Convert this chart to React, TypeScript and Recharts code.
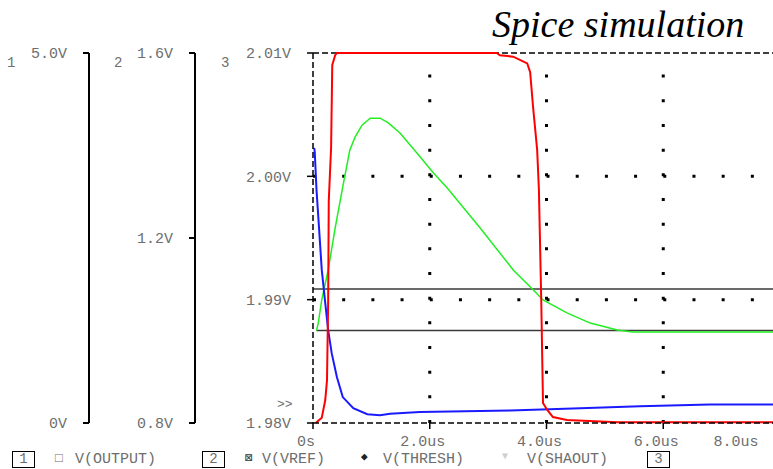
import { LineChart, Line, XAxis, YAxis } from "recharts"

// axis ticks
const timeTicks = [0, 2, 4, 6, 8]
const outputTicks = [0, 5]
const midTicks = [0.8, 1.2, 1.6]
const fineTicks = [1.98, 1.99, 2.0, 2.01]
const gridTimes = [2, 4, 6]
const gridFine = [1.99, 2.0]

// V(OUTPUT) on axis 1 (us, V)
const outputTime = [0.05, 0.09, 0.15, 0.21, 0.24, 0.26, 0.27, 0.31, 0.33, 0.38, 0.41, 3.15, 3.2, 3.43, 3.67, 3.72, 3.77, 3.84, 3.87, 3.91, 3.94, 4.01, 4.11, 4.35, 5.21, 8]
const outputVolts = [0.0, 0.03, 0.07, 0.31, 0.58, 1.66, 3.0, 3.72, 4.84, 4.97, 5.0, 5.0, 4.97, 4.95, 4.86, 4.74, 4.27, 3.69, 3.15, 1.66, 0.27, 0.18, 0.08, 0.04, 0.01, 0.01]

// V(THRESH) on axis 2
const threshTime = [0.06, 0.09, 0.15, 0.26, 0.38, 0.5, 0.63, 0.72, 0.84, 0.98, 1.15, 1.29, 1.49, 1.78, 2.06, 2.3, 2.86, 3.43, 3.77, 3.94, 4.35, 4.75, 5.21, 5.48, 8]
const threshVolts = [1.0, 1.016, 1.066, 1.131, 1.222, 1.304, 1.39, 1.418, 1.444, 1.459, 1.459, 1.449, 1.427, 1.384, 1.341, 1.308, 1.222, 1.131, 1.088, 1.066, 1.038, 1.016, 1.001, 0.997, 0.997]

// V(SHAOUT) on axis 2
const shaoutTime = [0.02, 0.03, 0.06, 0.1, 0.15, 0.21, 0.26, 0.32, 0.41, 0.51, 0.69, 0.93, 1.15, 1.32, 1.83, 3.38, 4.58, 5.6, 6.8, 8]
const shaoutVolts = [1.395, 1.386, 1.304, 1.228, 1.131, 1.059, 1.001, 0.951, 0.899, 0.856, 0.832, 0.819, 0.817, 0.82, 0.824, 0.827, 0.832, 0.836, 0.84, 0.84]

// V(VREF) levels on axis 2
const refUpperTime = [0, 8]
const refUpperVolts = [1.09, 1.09]
const refLowerTime = [0.06, 8]
const refLowerVolts = [1.0, 1.0]

const zip = (ts: number[], vs: number[]) => ts.map((t, i) => ({ t, v: vs[i] }))

const tMin = timeTicks[0]
const tMax = timeTicks[timeTicks.length - 1]
const fMin = fineTicks[0]
const fMax = fineTicks[fineTicks.length - 1]

// left axes are stacked outward in id order, so axis 3 gets the first id
const AX3 = "a3"
const AX2 = "b2"
const AX1 = "c1"

const mono = "'Liberation Mono', 'DejaVu Sans Mono', monospace"
const textGray = "#6e6e6e"
const tickStyle = { fill: textGray, fontSize: 15, fontFamily: mono }

function TimeTick(props: any) {
  const { x, y, payload } = props
  const v = payload.value
  const label = v === 0 ? "0s" : v.toFixed(1) + "us"
  const shift = v === tMax ? -44 : -7
  return (
    <text x={x + shift} y={y + 4} dy="0.71em" textAnchor="middle" fill={textGray} fontSize={15} fontFamily={mono}>
      {label}
    </text>
  )
}

function LegendBox({ n, left }: { n: string; left: number }) {
  return (
    <div
      style={{
        position: "absolute",
        left,
        top: 451,
        width: 21,
        height: 15,
        border: "1px solid #000",
        color: textGray,
        fontFamily: mono,
        fontSize: 14,
        lineHeight: "15px",
        textAlign: "center",
      }}
    >
      {n}
    </div>
  )
}

function Label({ text, left, top, color = textGray, size = 15 }: { text: string; left: number; top: number; color?: string; size?: number }) {
  return (
    <div style={{ position: "absolute", left, top, color, fontFamily: mono, fontSize: size, lineHeight: 1, whiteSpace: "pre" }}>
      {text}
    </div>
  )
}

export default function App() {
  const axisDash = { stroke: "#000", strokeDasharray: "6 3", strokeWidth: 1.5 }
  const solidAxis = { stroke: "#000", strokeWidth: 2 }
  const plain = { dot: false, activeDot: false, isAnimationActive: false, dataKey: "v" } as const
  return (
    <div style={{ position: "absolute", left: 0, top: 0, width: 773, height: 469, overflow: "hidden", background: "#fff" }}>
      <LineChart width={780} height={469} margin={{ top: 53, right: 0, bottom: 16, left: 0 }}>
        <XAxis
          type="number"
          dataKey="t"
          domain={[tMin, tMax]}
          ticks={timeTicks}
          interval={0}
          height={30}
          tickSize={6}
          tick={(p: any) => <TimeTick {...p} />}
          tickLine={{ stroke: "#000", strokeWidth: 1.5 }}
          axisLine={axisDash}
        />
        <YAxis
          yAxisId={AX3}
          width={118}
          domain={[fMin, fMax]}
          ticks={fineTicks}
          interval={0}
          tickSize={6}
          tickMargin={16}
          tickFormatter={(v: number) => v.toFixed(2) + "V"}
          tick={tickStyle}
          tickLine={{ stroke: "#000", strokeWidth: 1.5 }}
          axisLine={axisDash}
        />
        <YAxis
          yAxisId={AX2}
          width={106}
          domain={[0.8, 1.6]}
          ticks={midTicks}
          interval={0}
          tickSize={6}
          tickMargin={16}
          tickFormatter={(v: number) => v.toFixed(1) + "V"}
          tick={tickStyle}
          tickLine={{ stroke: "#000", strokeWidth: 2 }}
          axisLine={solidAxis}
        />
        <YAxis
          yAxisId={AX1}
          width={89}
          domain={[0, 5]}
          ticks={outputTicks}
          interval={0}
          tickSize={6}
          tickMargin={16}
          tickFormatter={(v: number) => (v === 0 ? "0V" : v.toFixed(1) + "V")}
          tick={tickStyle}
          tickLine={{ stroke: "#000", strokeWidth: 2 }}
          axisLine={solidAxis}
        />
        {/* top border */}
        <Line {...plain} data={zip([tMin, tMax], [fMax, fMax])} yAxisId={AX3} stroke="#000" strokeWidth={1.5} strokeDasharray="6 3" />
        {/* dotted grid */}
        {gridFine.map((g) => (
          <Line key={"h" + g} {...plain} data={zip([tMin, tMax], [g, g])} yAxisId={AX3} stroke="#000" strokeWidth={3} strokeDasharray="3 26.19" />
        ))}
        {gridTimes.map((g) => (
          <Line key={"v" + g} {...plain} data={zip([g, g], [fMin, fMax])} yAxisId={AX3} stroke="#000" strokeWidth={3} strokeDasharray="3 21.67" />
        ))}
        <Line {...plain} data={zip(refUpperTime, refUpperVolts)} yAxisId={AX2} stroke="#3a3a3a" strokeWidth={1.5} />
        <Line {...plain} data={zip(refLowerTime, refLowerVolts)} yAxisId={AX2} stroke="#3a3a3a" strokeWidth={1.5} />
        <Line {...plain} data={zip(threshTime, threshVolts)} yAxisId={AX2} stroke="#22ee22" strokeWidth={1.5} />
        <Line {...plain} data={zip(shaoutTime, shaoutVolts)} yAxisId={AX2} stroke="#1a1aff" strokeWidth={2} />
        <Line {...plain} data={zip(outputTime, outputVolts)} yAxisId={AX1} stroke="#ff0000" strokeWidth={2} />
      </LineChart>

      <div
        style={{
          position: "absolute",
          left: 492,
          top: 5,
          fontFamily: "'Liberation Serif', 'Times New Roman', serif",
          fontStyle: "italic",
          fontSize: 38,
          lineHeight: 1,
          color: "#000",
        }}
      >
        Spice simulation
      </div>

      <Label text="1" left={7} top={56} size={14} />
      <Label text="2" left={114} top={56} size={14} />
      <Label text="3" left={221} top={56} size={14} />
      <Label text=">>" left={277} top={398} size={13} />

      <LegendBox n="1" left={12} />
      <Label text="□" left={55} top={452} size={13} />
      <Label text="V(OUTPUT)" left={75} top={452} />
      <LegendBox n="2" left={202} />
      <Label text="⊠" left={245} top={452} size={13} color="#333" />
      <Label text="V(VREF)" left={262} top={452} />
      <Label text="◆" left={361} top={452} size={11} color="#222" />
      <Label text="V(THRESH)" left={383} top={452} />
      <Label text="▼" left={502} top={452} size={10} color="#cfcfcf" />
      <Label text="V(SHAOUT)" left={527} top={452} />
      <LegendBox n="3" left={647} />
    </div>
  )
}
